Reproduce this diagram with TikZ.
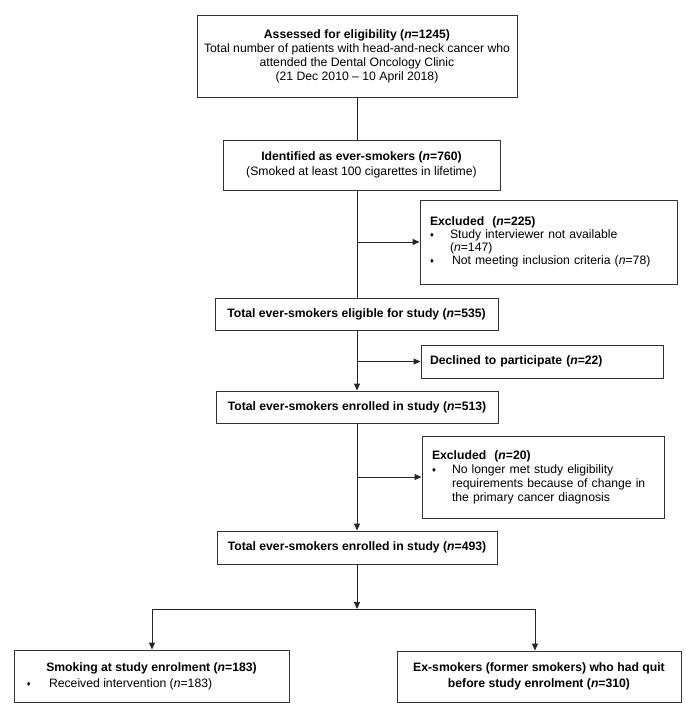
\documentclass[tikz,border=0pt]{standalone}
\usepackage{fontspec}
\setmainfont{Liberation Sans}
\usetikzlibrary{arrows.meta}
\newcommand{\bul}{\makebox[20pt][l]{\raisebox{0.8pt}{\fontsize{7.5}{7.5}\selectfont ♦}}}
\newcommand{\nn}{\textit{n}}
\begin{document}
\begin{tikzpicture}[x=1pt,y=-1pt,
  box/.style={draw=black!80, line width=0.9pt, inner sep=0pt, font=\fontsize{12.2}{14}\selectfont},
  conn/.style={line width=0.9pt, draw=black!85},
  arr/.style={conn, -{Triangle[length=7pt,width=6pt]}}]
\useasboundingbox (0,0) rectangle (686,716);
\fill[white] (0,0) rectangle (686,716);

\node[box, minimum width=320pt, minimum height=82pt, align=center] (b1) at (357,56)
 {\textbf{Assessed for eligibility (\nn=1245)}\\Total number of patients with head-and-neck cancer who\\attended the Dental Oncology Clinic\\(21 Dec 2010 -- 10 April 2018)};

\node[box, minimum width=277pt, minimum height=50pt, align=center, font=\fontsize{12.2}{15}\selectfont] (b2) at (361.5,165)
 {\textbf{Identified as ever-smokers (\nn=760)}\\(Smoked at least 100 cigarettes in lifetime)};

\node[box, minimum width=257pt, minimum height=84pt, text width=237pt, align=left, font=\fontsize{12.2}{13}\selectfont] (ex1) at (548.5,242)
 {\textbf{Excluded~~(\nn=225)}\\\bul Study interviewer not available\\\hspace*{20pt}(\nn=147)\\\bul\,Not meeting inclusion criteria (\nn=78)};

\node[box, minimum width=283pt, minimum height=32pt, align=center] (b3) at (356.5,314)
 {\textbf{Total ever-smokers eligible for study (\nn=535)}};

\node[box, minimum width=242pt, minimum height=33pt, text width=224pt, align=left] (dec) at (542,361.5)
 {\textbf{Declined to participate (\nn=22)}};

\node[box, minimum width=282pt, minimum height=32pt, align=center] (b4) at (357,407)
 {\textbf{Total ever-smokers enrolled in study (\nn=513)}};

\node[box, minimum width=242pt, minimum height=82pt, text width=222pt, align=left] (ex2) at (543,477)
 {\textbf{Excluded~~(\nn=20)}\\\bul No longer met study eligibility\\\hspace*{20pt}requirements because of change in\\\hspace*{20pt}the primary cancer diagnosis};

\node[box, minimum width=280pt, minimum height=33pt, align=center] (b5) at (357,547.5)
 {\textbf{Total ever-smokers enrolled in study (\nn=493)}};

\node[box, minimum width=275pt, minimum height=52pt, align=center, font=\fontsize{12.2}{16}\selectfont] (smk) at (151.5,676)
 {\textbf{Smoking at study enrolment (\nn=183)}\\\makebox[249pt][l]{\bul\,Received intervention (\nn=183)}};

\node[box, minimum width=284pt, minimum height=51pt, align=center, font=\fontsize{12.2}{16}\selectfont] (exs) at (539,676.5)
 {\textbf{Ex-smokers (former smokers) who had quit}\\\textbf{before study enrolment (\nn=310)}};

% main spine
\coordinate (c) at (357,0);
\draw[conn] (c |- b1.south) -- (c |- b2.north);
\draw[conn] (c |- b2.south) -- (c |- b3.north);
\draw[arr] (c |- b3.south) -- (c |- b4.north);
\draw[arr] (c |- b4.south) -- (c |- b5.north);
% side branches
\draw[arr] (c |- ex1.west) -- (ex1.west);
\draw[arr] (c |- dec.west) -- (dec.west);
\draw[arr] (c |- ex2.west) -- (ex2.west);
% bottom split
\coordinate (sp) at (357,609);
\coordinate (sl) at (152,609);
\coordinate (sr) at (535,609);
\draw[arr] (c |- b5.south) -- (sp);
\draw[conn] (sl) -- (sr);
\draw[arr] (sl) -- (sl |- smk.north);
\draw[arr] (sr) -- (sr |- exs.north);
\end{tikzpicture}
\end{document}
